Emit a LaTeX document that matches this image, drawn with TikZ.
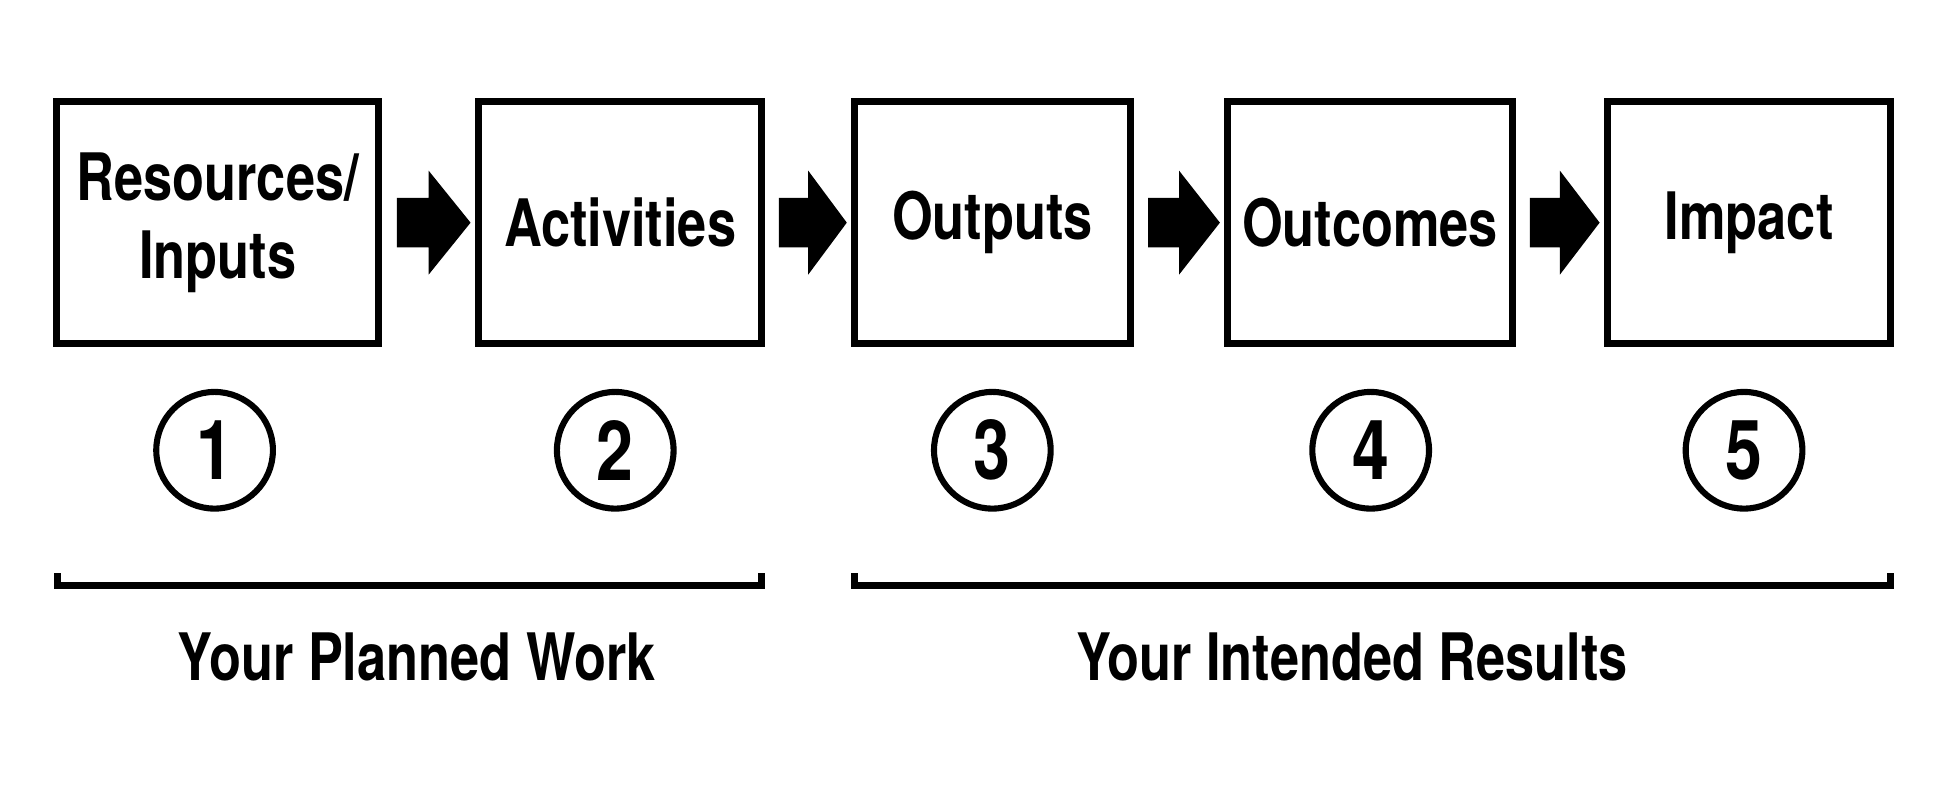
\documentclass[tikz,border=0pt]{standalone}
\usepackage{fontspec}
\setmainfont{TeX Gyre Heros}[FakeStretch=0.8]
\usetikzlibrary{calc}
\begin{document}
\begin{tikzpicture}[x=0.01cm,y=-0.01cm]
\tikzset{
stage/.style={draw,line width=1.6pt,minimum height=1.95cm,inner sep=0pt,font=\bfseries\fontsize{15}{18}\selectfont,align=center},
stepnum/.style={draw,circle,line width=1.4pt,minimum size=0.94cm,inner sep=0pt,font=\bfseries\fontsize{19}{20}\selectfont},
brace/.style={line width=1.6pt},
caption/.style={font=\bfseries\fontsize{15}{18}\selectfont},
}
\useasboundingbox (0,0) rectangle (1568,652);
% STAGES
\node[stage,minimum width=2.59cm] (res) at (175.5,179.5) {Resources/\\Inputs};
\node[stage,minimum width=2.28cm] (act) at (500,179.5) {Activities};
\node[stage,minimum width=2.22cm] (out) at (800,179.5) {Outputs};
\node[stage,minimum width=2.29cm] (oc) at (1104.5,179.5) {Outcomes};
\node[stage,minimum width=2.28cm] (imp) at (1410,179.5) {Impact};
% BLOCK ARROWS
\foreach \a/\b in {res/act,act/out,out/oc,oc/imp}{
  \coordinate (s) at ($(\a.east)!0.16!(\b.west)$);
  \coordinate (t) at ($(\a.east)!0.95!(\b.west)$);
  \fill (s) ++(0,-20) -- ($(s)!0.43!(t)+(0,-20)$) -- ++(0,-22) -- (t)
    -- ($(s)!0.43!(t)+(0,42)$) -- ++(0,-22) -- ($(s)+(0,20)$) -- cycle;
}
% NUMBERS
\foreach \n/\x in {1/173,2/496,3/800,4/1105,5/1406}
  \node[stepnum] (n\n) at (\x,363) {\n};
% BRACKETS
\draw[brace] (46,462) -- (46,472) -- (614,472) -- (614,462);
\draw[brace] (689,462) -- (689,472) -- (1524,472) -- (1524,462);
\node[caption] (plan) at (336,530) {Your Planned Work};
\node[caption] (res2) at (1090,530) {Your Intended Results};
\end{tikzpicture}
\end{document}
